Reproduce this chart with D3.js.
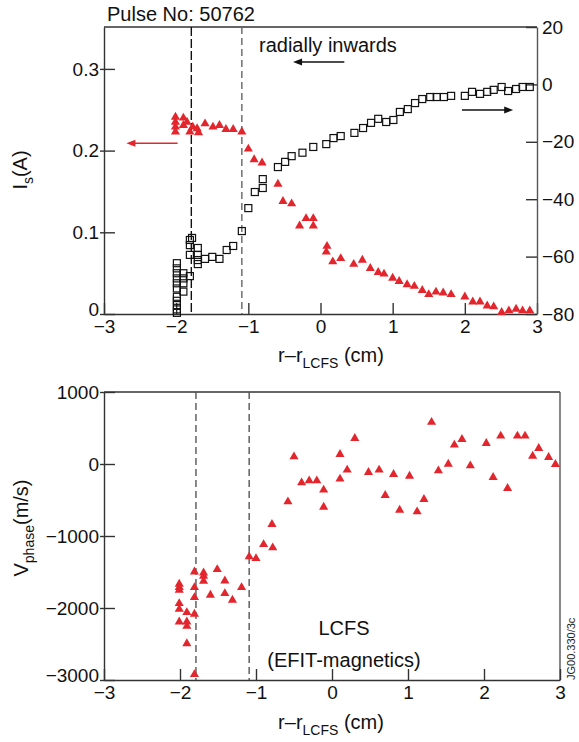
<!DOCTYPE html>
<html>
<head>
<meta charset="utf-8">
<script src="https://cdn.jsdelivr.net/npm/d3@7"></script>
<style>
  html, body { margin: 0; padding: 0; background: #fff; }
  svg { display: block; }
</style>
</head>
<body>
<div id="chart"></div>
<script>
// ---- data ----
const xTicks = [-3, -2, -1, 0, 1, 2, 3];
const isTicks = [0, 0.1, 0.2, 0.3];
const isTickLabels = ["0", "0.1", "0.2", "0.3"];
const rightTicks = [20, 0, -20, -40, -60, -80];
const vTicks = [1000, 0, -1000, -2000, -3000];
const lcfsLines = [-1.79, -1.09];

// ion saturation current, left axis
const isX = [-2.01, -2.01, -2.01, -2.01, -1.9, -1.9, -1.85, -1.81, -1.77, -1.71, -1.69, -1.6, -1.49, -1.4, -1.31, -1.21, -1.09, -1.0, -0.92, -0.81,
  -0.59, -0.52, -0.4, -0.29, -0.2, -0.1, -0.1, 0.09, 0.08, 0.17, 0.28, 0.46, 0.58, 0.69, 0.8, 0.88, 1.0, 1.09, 1.2, 1.3,
  1.41, 1.5, 1.6, 1.7, 1.81, 2.0, 2.11, 2.21, 2.31, 2.4, 2.51, 2.61, 2.71, 2.8, 2.9];
const isY = [0.241, 0.235, 0.229, 0.223, 0.240, 0.231, 0.235, 0.223, 0.229, 0.227, 0.222, 0.233, 0.229, 0.231, 0.226, 0.226, 0.223, 0.202, 0.189, 0.185,
  0.159, 0.138, 0.135, 0.108, 0.117, 0.117, 0.108, 0.083, 0.076, 0.064, 0.068, 0.061, 0.066, 0.056, 0.051, 0.049, 0.044, 0.040, 0.036, 0.034,
  0.029, 0.024, 0.027, 0.026, 0.024, 0.021, 0.015, 0.015, 0.010, 0.009, 0.002, 0.004, 0.006, 0.004, 0.004];

// squares, right axis
const sqX = [-1.99, -1.99, -1.99, -1.99, -1.99, -1.99, -1.99, -1.99, -1.99, -1.99, -1.99,
  -1.9, -1.9, -1.9, -1.9, -1.81, -1.81, -1.81, -1.81, -1.78, -1.7, -1.7, -1.7, -1.7,
  -1.6, -1.5, -1.4, -1.3, -1.21, -1.09, -1.0, -0.91, -0.8, -0.8, -0.59, -0.49, -0.4, -0.25,
  -0.1, 0.08, 0.18, 0.28, 0.47, 0.59, 0.70, 0.80, 0.91, 1.01, 1.10, 1.21, 1.31, 1.41, 1.52, 1.61, 1.71, 1.81,
  2.0, 2.10, 2.21, 2.31, 2.40, 2.51, 2.60, 2.71, 2.80, 2.90];
const sqY = [-62.3, -64.1, -65.8, -67.6, -69.3, -71.1, -74.0, -75.4, -76.9, -78.4, -79.6,
  -65.8, -67.6, -69.3, -72.2, -54.2, -56.0, -59.4, -66.8, -53.5, -57.0, -59.4, -61.2, -62.6,
  -60.8, -60.1, -60.8, -57.7, -56.3, -51.1, -43.1, -37.5, -36.1, -33.0, -28.8, -27.0, -25.0, -23.8,
  -21.8, -20.8, -18.7, -18.0, -16.9, -15.2, -13.4, -12.0, -13.1, -12.4, -9.6, -8.6, -6.5, -5.1, -4.4, -4.4, -4.4, -4.0,
  -4.0, -2.6, -3.3, -2.6, -1.9, -0.9, -2.3, -1.6, -0.9, -0.9];

// phase velocity, bottom panel
const vX = [-2.01, -2.01, -2.01, -2.01, -2.01, -2.01, -1.91, -1.91, -1.91, -1.91,
  -1.81, -1.81, -1.81, -1.81, -1.81, -1.69, -1.69, -1.69, -1.6, -1.51, -1.41, -1.41, -1.31, -1.19,
  -1.09, -1.0, -0.9, -0.79, -0.78, -0.58, -0.5, -0.4, -0.3, -0.2, -0.11, -0.11, 0.105, 0.105, 0.2, 0.3,
  0.48, 0.62, 0.7, 0.81, 0.89, 1.02, 1.12, 1.21, 1.31, 1.4, 1.53, 1.61, 1.71, 1.82,
  2.03, 2.12, 2.22, 2.31, 2.44, 2.54, 2.64, 2.72, 2.85, 2.94];
const vY = [-1668, -1714, -1751, -1937, -2016, -2192, -2062, -2192, -2252, -2493,
  -1497, -1714, -1853, -2085, -2923, -1511, -1557, -1626, -1821, -1464, -1622, -1798, -1890, -1714,
  -1288, -1311, -1117, -838, -1163, -524, 101, -260, -232, -232, -361, -598, 135, -208, -83, 357,
  -115, -83, -435, -143, -639, -167, -663, -491, 580, -93, 0, 264, 343, -23,
  288, -185, 389, -338, 389, 389, 111, 218, 93, -4];

// ---- layout ----
const width = 579, height = 742;
const FONT = "'Liberation Sans', Arial, Helvetica, sans-serif";
const RED = "#e3262d";
const AX = "#333";

const x1 = d3.scaleLinear().domain([-3, 3]).range([104, 537]);
const yIs = d3.scaleLinear().domain([0, 0.3513]).range([314, 27]);
const yR = d3.scaleLinear().domain([-80, 20]).range([314, 27]);
const x2 = d3.scaleLinear().domain([-3, 3]).range([104, 560]);
const yV = d3.scaleLinear().domain([-3000, 1000]).range([680, 392]);

const svg = d3.select("#chart").append("svg")
  .attr("width", width)
  .attr("height", height)
  .attr("font-family", FONT);

svg.append("rect").attr("width", width).attr("height", height).attr("fill", "#fff");

function styleAxis(g) {
  g.attr("font-family", FONT).attr("font-size", 19);
  g.select(".domain").attr("stroke", AX).attr("stroke-width", 1.4);
  g.selectAll(".tick line").attr("stroke", AX).attr("stroke-width", 1.4);
  g.selectAll(".tick text").attr("fill", "#111");
}

const fmtX = d3.format("d");

// ================= top panel =================
const topG = svg.append("g");

// frame top line
topG.append("line")
  .attr("x1", x1.range()[0]).attr("x2", x1.range()[1])
  .attr("y1", yIs.range()[1]).attr("y2", yIs.range()[1])
  .attr("stroke", AX).attr("stroke-width", 1.4);

topG.append("g")
  .attr("transform", `translate(0,${yIs.range()[0]})`)
  .call(d3.axisBottom(x1).tickValues(xTicks).tickFormat(fmtX).tickSizeInner(-11).tickSizeOuter(0).tickPadding(6))
  .call(styleAxis);

topG.append("g")
  .attr("transform", `translate(${x1.range()[0]},0)`)
  .call(d3.axisLeft(yIs).tickValues(isTicks).tickFormat((d, i) => isTickLabels[i]).tickSizeInner(-11).tickSizeOuter(0).tickPadding(5))
  .call(styleAxis)
  .call(g => g.selectAll(".tick line").attr("x1", -4))
  .call(g => g.selectAll(".tick text").filter(d => d === 0).attr("y", -5));

topG.append("g")
  .attr("transform", `translate(${x1.range()[1]},0)`)
  .call(d3.axisRight(yR).tickValues(rightTicks).tickSizeInner(-11).tickSizeOuter(0).tickPadding(5))
  .call(styleAxis)
  .call(g => g.select(".domain").attr("stroke", "#555"));

// dashed LCFS lines
topG.selectAll(".lcfs")
  .data(lcfsLines)
  .join("line")
    .attr("x1", d => x1(d)).attr("x2", d => x1(d))
    .attr("y1", yIs.range()[1]).attr("y2", yIs.range()[0])
    .attr("stroke", (d, i) => i === 0 ? "#111" : "#666")
    .attr("stroke-width", 1.4)
    .attr("stroke-dasharray", (d, i) => i === 0 ? "9,3" : "7,4");

// squares
const sq = 7;
topG.selectAll(".sq")
  .data(d3.range(sqX.length))
  .join("rect")
    .attr("x", i => x1(sqX[i]) - sq / 2)
    .attr("y", i => yR(sqY[i]) - sq / 2)
    .attr("width", sq).attr("height", sq)
    .attr("fill", "none")
    .attr("stroke", "#111")
    .attr("stroke-width", 1.2);

// triangles
const tri = d3.symbol().type(d3.symbolTriangle).size(36);
topG.selectAll(".tri")
  .data(d3.range(isX.length))
  .join("path")
    .attr("d", tri)
    .attr("transform", i => `translate(${x1(isX[i])},${yIs(isY[i])})`)
    .attr("fill", RED);

// arrows
function arrow(g, xa, ya, xb, yb, color) {
  const dir = Math.sign(xb - xa);
  g.append("line")
    .attr("x1", xa).attr("x2", xb - dir * 6)
    .attr("y1", ya).attr("y2", yb)
    .attr("stroke", color).attr("stroke-width", 1.4);
  g.append("path")
    .attr("d", `M${xb},${yb} L${xb - dir * 9},${yb - 3.5} L${xb - dir * 9},${yb + 3.5} Z`)
    .attr("fill", color);
}
arrow(topG, x1(-1.98), yIs(0.209), x1(-2.69), yIs(0.209), RED);
arrow(topG, x1(0.33), yR(7.8), x1(-0.38), yR(7.8), "#111");
arrow(topG, x1(1.96), yR(-8.9), x1(2.67), yR(-8.9), "#111");

topG.append("text")
  .attr("x", 107).attr("y", 21)
  .attr("font-size", 20).attr("fill", "#111")
  .text("Pulse No: 50762");

topG.append("text")
  .attr("x", 259).attr("y", 52)
  .attr("font-size", 20).attr("fill", "#111")
  .text("radially inwards");

// axis titles
function xTitle(g, y) {
  const t = g.append("text")
    .attr("x", 331).attr("y", y)
    .attr("text-anchor", "middle")
    .attr("font-size", 20).attr("fill", "#111");
  t.append("tspan").text("r–r");
  t.append("tspan").attr("font-size", 14).attr("dy", 6).text("LCFS");
  t.append("tspan").attr("dy", -6).text(" (cm)");
}
xTitle(topG, 362);

const yt1 = topG.append("text")
  .attr("transform", "translate(27,170) rotate(-90)")
  .attr("text-anchor", "middle")
  .attr("font-size", 20).attr("fill", "#111");
yt1.append("tspan").text("I");
yt1.append("tspan").attr("font-size", 14).attr("dy", 6).text("s");
yt1.append("tspan").attr("dy", -6).text("(A)");

// ================= bottom panel =================
const botG = svg.append("g");

botG.append("line")
  .attr("x1", x2.range()[0]).attr("x2", x2.range()[1])
  .attr("y1", yV.range()[1]).attr("y2", yV.range()[1])
  .attr("stroke", AX).attr("stroke-width", 1.4);
botG.append("line")
  .attr("x1", x2.range()[1]).attr("x2", x2.range()[1])
  .attr("y1", yV.range()[1]).attr("y2", yV.range()[0])
  .attr("stroke", "#555").attr("stroke-width", 1.4);

botG.append("g")
  .attr("transform", `translate(0,${yV.range()[0]})`)
  .call(d3.axisBottom(x2).tickValues(xTicks).tickFormat(fmtX).tickSizeInner(-11).tickSizeOuter(0).tickPadding(6))
  .call(styleAxis);

botG.append("g")
  .attr("transform", `translate(${x2.range()[0]},0)`)
  .call(d3.axisLeft(yV).tickValues(vTicks).tickFormat(fmtX).tickSizeInner(-11).tickSizeOuter(0).tickPadding(5))
  .call(styleAxis)
  .call(g => g.selectAll(".tick line").attr("x1", -4))
  .call(g => g.selectAll(".tick text").filter(d => d === -3000).attr("y", -5));

botG.selectAll(".lcfs")
  .data(lcfsLines)
  .join("line")
    .attr("x1", d => x2(d)).attr("x2", d => x2(d))
    .attr("y1", yV.range()[1]).attr("y2", yV.range()[0])
    .attr("stroke", "#555")
    .attr("stroke-width", 1.4)
    .attr("stroke-dasharray", "7,4");

botG.selectAll(".tri")
  .data(d3.range(vX.length))
  .join("path")
    .attr("d", tri)
    .attr("transform", i => `translate(${x2(vX[i])},${yV(vY[i])})`)
    .attr("fill", RED);

botG.append("text")
  .attr("x", 344).attr("y", 635)
  .attr("text-anchor", "middle")
  .attr("font-size", 20).attr("fill", "#111")
  .text("LCFS");
botG.append("text")
  .attr("x", 344).attr("y", 667)
  .attr("text-anchor", "middle")
  .attr("font-size", 20).attr("fill", "#111")
  .text("(EFIT-magnetics)");

xTitle(botG, 729);

const yt2 = botG.append("text")
  .attr("transform", "translate(28,528) rotate(-90)")
  .attr("text-anchor", "middle")
  .attr("font-size", 20).attr("fill", "#111");
yt2.append("tspan").text("V");
yt2.append("tspan").attr("font-size", 14).attr("dy", 6).text("phase");
yt2.append("tspan").attr("dy", -6).text("(m/s)");

botG.append("text")
  .attr("transform", "translate(575,680) rotate(-90)")
  .attr("font-size", 11).attr("fill", "#222")
  .text("JG00.330/3c");
</script>
</body>
</html>
